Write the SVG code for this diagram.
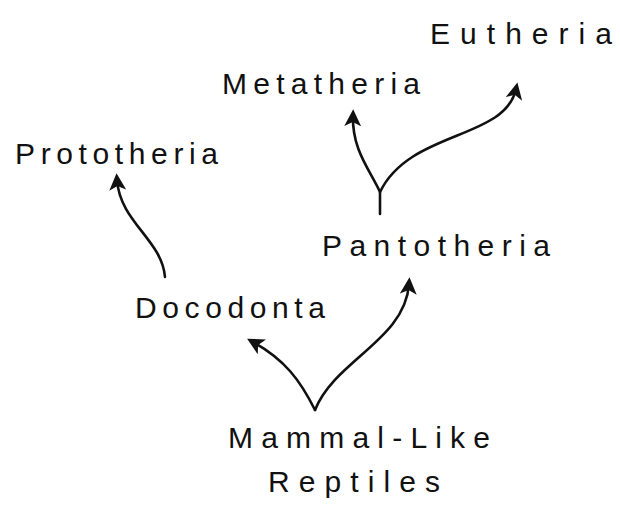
<svg xmlns="http://www.w3.org/2000/svg" width="620" height="518" viewBox="0 0 620 518">
<style>
.t{font-family:"Liberation Sans","DejaVu Sans",sans-serif;font-size:30px;fill:#111;}
.c{fill:none;stroke:#111;stroke-width:2.6;stroke-linecap:round;}
</style>
<defs>
<marker id="ah" viewBox="0 0 10 10" refX="6" refY="5" markerWidth="6.5" markerHeight="6.5" orient="auto" markerUnits="strokeWidth">
<path d="M0,0 L10,5 L0,10 L2.5,5 Z" fill="#111"/>
</marker>
</defs>
<rect width="620" height="518" fill="#fff"/>
<g id="connectors">
<path class="c" d="M165,277 C162,240 120,222 117,180" marker-end="url(#ah)"/>
<path class="c" d="M380,214 L380,192 C370,170 352,150 353,116" marker-end="url(#ah)"/>
<path class="c" d="M380,192 C410,130 505,140 516,89" marker-end="url(#ah)"/>
<path class="c" d="M315,410 C300,380 285,360 253,342" marker-end="url(#ah)"/>
<path class="c" d="M315,410 C335,360 405,340 409,284" marker-end="url(#ah)"/>
</g>
<g id="eutheria"><text class="t" x="430" y="44" textLength="182" lengthAdjust="spacing">Eutheria</text></g>
<g id="metatheria"><text class="t" x="222" y="94" textLength="198" lengthAdjust="spacing">Metatheria</text></g>
<g id="prototheria"><text class="t" x="15" y="164" textLength="203" lengthAdjust="spacing">Prototheria</text></g>
<g id="pantotheria"><text class="t" x="322" y="256" textLength="228" lengthAdjust="spacing">Pantotheria</text></g>
<g id="docodonta"><text class="t" x="135" y="318" textLength="190" lengthAdjust="spacing">Docodonta</text></g>
<g id="mammal-like-reptiles">
<text class="t" x="228" y="448" textLength="262" lengthAdjust="spacing">Mammal-Like</text>
<text class="t" x="268" y="492" textLength="172" lengthAdjust="spacing">Reptiles</text>
</g>
</svg>
